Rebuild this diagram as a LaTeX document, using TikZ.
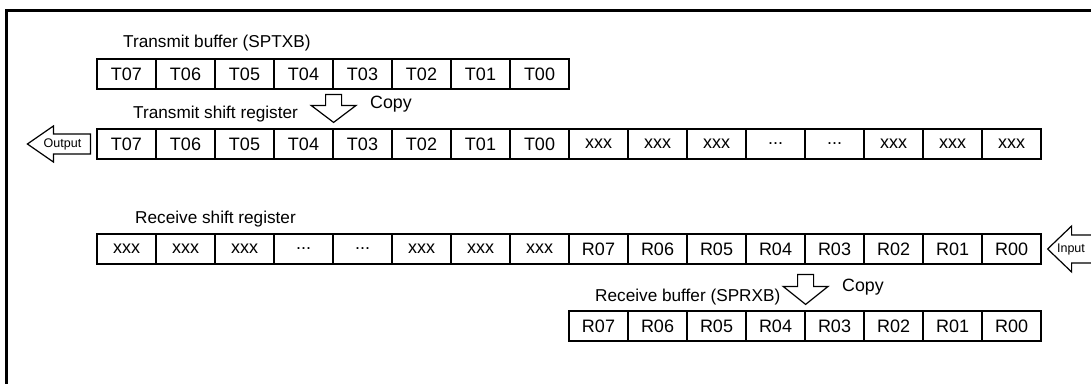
\documentclass[tikz,border=0pt]{standalone}
\usepackage{fontspec}
\setmainfont{Liberation Sans}
\usetikzlibrary{calc}
\newcommand\tdots{...}
\begin{document}
\begin{tikzpicture}[x=1pt,y=-1pt,
 cell/.style={draw,line width=1.2pt,minimum width=59pt,minimum height=30pt,inner sep=0pt,font=\fontsize{18}{20}\selectfont},
 title/.style={anchor=west,inner sep=0pt,font=\fontsize{17.2}{20}\selectfont},
 bigarrow/.style={draw,line width=1.2pt,fill=white,line join=miter},
 small/.style={font=\fontsize{12.5}{14}\selectfont,inner sep=0pt}]
\clip (0,0) rectangle (1091,383);
\fill[white] (0,0) rectangle (1091,383);
\draw[line width=3pt] (6,10) rectangle (1200,500);
% transmit buffer
\foreach \t [count=\i] in {T07,T06,T05,T04,T03,T02,T01,T00}
  \node[cell] (tb\i) at ({126.5+59*(\i-1)},74) {\t};
% transmit shift register
\foreach \t [count=\i] in {T07,T06,T05,T04,T03,T02,T01,T00,xxx,xxx,xxx,\tdots,\tdots,xxx,xxx,xxx}
  \node[cell] (ts\i) at ({126.5+59*(\i-1)},144) {\t};
% receive shift register
\foreach \t [count=\i] in {xxx,xxx,xxx,\tdots,\tdots,xxx,xxx,xxx,R07,R06,R05,R04,R03,R02,R01,R00}
  \node[cell] (rs\i) at ({126.5+59*(\i-1)},249) {\t};
% receive buffer
\foreach \t [count=\i] in {R07,R06,R05,R04,R03,R02,R01,R00}
  \node[cell] (rb\i) at ({598.5+59*(\i-1)},326) {\t};
% titles
\node[title] (ttb) at (123,43) {Transmit buffer (SPTXB)};
\node[title] (tts) at (133,114) {Transmit shift register};
\node[title] (trs) at (135,219) {Receive shift register};
\node[title] (trb) at (595,297) {Receive buffer (SPRXB)};
% copy arrows
\coordinate (ctip) at ($(ts4.north east)+(0,-6)$);
\draw[bigarrow] (ctip) -- ++(22.5,-17) -- ++(-14.5,0) -- ++(0,-11) -- ++(-16,0) -- ++(0,11) -- ++(-14.5,0) -- cycle;
\node[title,font=\fontsize{17.8}{20}\selectfont] (tcopy) at (370,104) {Copy};
\coordinate (rtip) at ($(rb4.north east)+(0,-6)$);
\draw[bigarrow] (rtip) -- ++(22.5,-18) -- ++(-14.5,0) -- ++(0,-12) -- ++(-16,0) -- ++(0,12) -- ++(-14.5,0) -- cycle;
\node[title,font=\fontsize{17.8}{20}\selectfont] (rcopy) at (842,287) {Copy};
% output arrow
\coordinate (otip) at ($(ts1.west)+(-69,0)$);
\draw[bigarrow] (otip) -- ++(26,-18) -- ++(0,8) -- ++(37,0) -- ++(0,20) -- ++(-37,0) -- ++(0,8) -- cycle;
\node[small] (out) at (62.5,144) {Output};
% input arrow
\coordinate (itip) at ($(rs16.east)+(6,0)$);
\draw[bigarrow] (itip) -- ++(24,-23) -- ++(0,9) -- ++(60,0) -- ++(0,28) -- ++(-60,0) -- ++(0,9) -- cycle;
\node[small] (in) at (1071,249) {Input};
\end{tikzpicture}
\end{document}
